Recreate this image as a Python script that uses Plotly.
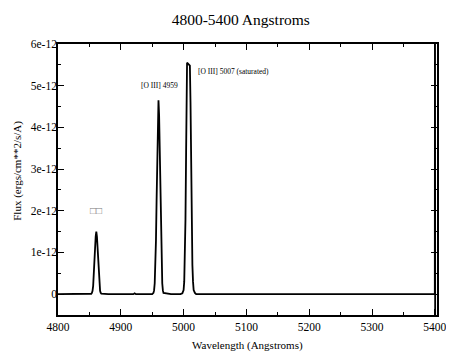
import plotly.graph_objects as go

# Spectrum (flux in units of 1e-12 ergs/cm**2/s/A)
wavelength = [4800, 4820, 4840, 4850,
              4853, 4854, 4855, 4856, 4857, 4858, 4859, 4860, 4861, 4862, 4863, 4864, 4865, 4866, 4867, 4868, 4869,
              4880, 4900, 4920, 4922, 4924, 4940, 4950,
              4952, 4953, 4954, 4955, 4956, 4957, 4958, 4959, 4960, 4961, 4962, 4963, 4964, 4965, 4966, 4967, 4968,
              4980, 4995, 4998, 5000, 5001, 5002, 5003, 5004, 5005, 5005.5, 5007, 5009, 5010, 5011, 5012, 5013,
              5014, 5015, 5016, 5018, 5020, 5030, 5100, 5200, 5300, 5399, 5400, 5400.3, 5400.6]
flux = [0.0, 0.0, 0.0, 0.0,
        0.01, 0.03, 0.08, 0.20, 0.42, 0.73, 1.09, 1.38, 1.50, 1.38, 1.09, 0.73, 0.42, 0.20, 0.08, 0.03, 0.01,
        0.0, 0.0, 0.0, 0.02, 0.0, 0.0, 0.0,
        0.03, 0.09, 0.26, 0.63, 1.29, 2.26, 3.38, 4.29, 4.65, 4.29, 3.38, 2.26, 1.29, 0.63, 0.26, 0.09, 0.03,
        0.0, 0.0, 0.02, 0.10, 0.30, 0.80, 1.80, 3.40, 5.00, 5.55, 5.53, 5.51, 5.48, 4.60, 3.00, 1.60,
        0.70, 0.30, 0.10, 0.03, 0.0, 0.0, 0.0, 0.0, 0.0, 0.0, 0.0, 8.0, -2.0]
flux_scale = 1e-12

x_ticks = [4800, 4900, 5000, 5100, 5200, 5300, 5400]
x_ticklabels = ["4800", "4900", "5000", "5100", "5200", "5300", "5400"]
y_ticks = [0, 1e-12, 2e-12, 3e-12, 4e-12, 5e-12, 6e-12]
y_ticklabels = ["0", "1e-12", "2e-12", "3e-12", "4e-12", "5e-12", "6e-12"]

labels = ["[O III] 4959", "[O III] 5007 (saturated)", "□□"]
label_x = [4961, 5080, 4861]
label_y = [5.0e-12, 5.35e-12, 2.0e-12]

SERIF = "Liberation Serif, Times New Roman, serif"

fig = go.Figure()
fig.add_trace(go.Scatter(
    x=wavelength, y=[v * flux_scale for v in flux],
    mode="lines", line=dict(color="black", width=1.8),
    showlegend=False, hoverinfo="skip"))

annots = []
for t, xv, yv in zip(labels, label_x, label_y):
    annots.append(dict(
        x=xv, y=yv, xref="x", yref="y", text=t, showarrow=False,
        font=dict(family=SERIF, size=10 if t == "□□" else 7.5,
                  color="#777777" if t == "□□" else "black")))

# axis titles as annotations (placed like the reference)
annots.append(dict(text="Flux (ergs/cm**2/s/A)", textangle=-90, showarrow=False,
                   xref="paper", yref="paper", x=-0.109, y=0.531,
                   xanchor="center", yanchor="middle",
                   font=dict(family=SERIF, size=11, color="black")))
annots.append(dict(text="Wavelength (Angstroms)", showarrow=False,
                   xref="paper", yref="paper", x=0.5, y=-0.114,
                   xanchor="center", yanchor="middle",
                   font=dict(family=SERIF, size=11, color="black")))

axis_common = dict(
    showline=True, linecolor="black", linewidth=1.5, mirror="ticks",
    ticks="inside", ticklen=6, tickwidth=1, tickcolor="black",
    showgrid=False, zeroline=False,
    tickfont=dict(family=SERIF, size=11.5, color="black"),
)

fig.update_layout(
    width=446, height=348,
    margin=dict(l=49.5, r=7.5, t=36, b=41),
    paper_bgcolor="white", plot_bgcolor="white",
    title=dict(text="4800-5400 Angstroms", x=0.522, xref="container", xanchor="center",
               y=0.9655, yref="container", yanchor="middle",
               font=dict(family=SERIF, size=15.5, color="black")),
    xaxis=dict(range=[4800, 5403.5], tickvals=x_ticks, ticktext=x_ticklabels,
               minor=dict(ticks="inside", ticklen=3, dtick=50, tick0=4800, tickcolor="black"),
               ticklabelstandoff=0, ticklabeloverflow="allow",
               **axis_common),
    yaxis=dict(range=[-0.5e-12, 6e-12], tickvals=y_ticks, ticktext=y_ticklabels,
               minor=dict(ticks="inside", ticklen=3, dtick=0.5e-12, tick0=0, tickcolor="black"),
               ticklabelstandoff=-3,
               **axis_common),
    annotations=annots,
)

fig.write_html("out.html")
